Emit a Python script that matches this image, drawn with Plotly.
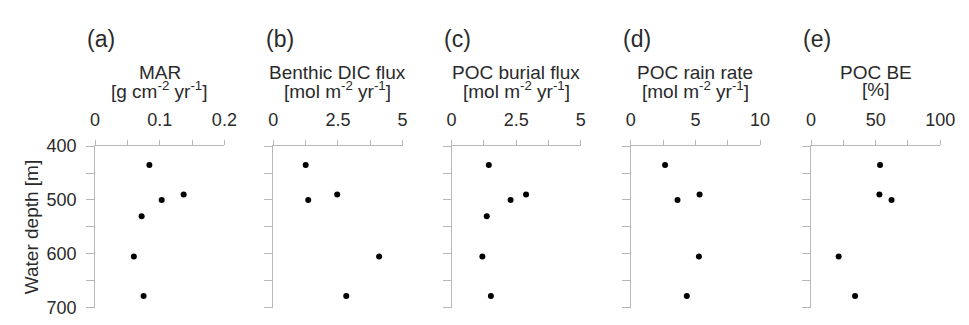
import plotly.graph_objects as go

# ---- data ----
depth = [435, 490, 500, 530, 605, 678]
mar = [0.084, 0.137, 0.103, 0.072, 0.060, 0.075]
dic_flux = [1.25, 2.47, 1.35, None, 4.09, 2.82]
poc_burial = [1.44, 2.88, 2.28, 1.36, 1.19, 1.52]
poc_rain = [2.65, 5.32, 3.61, None, 5.27, 4.33]
poc_be = [53.4, 52.9, 62.3, None, 21.4, 34.1]

panel_letters = ["(a)", "(b)", "(c)", "(d)", "(e)"]
panel_names = ["MAR", "Benthic DIC flux", "POC burial flux", "POC rain rate", "POC BE"]
panel_units = ["[g cm<sup>-2</sup> yr<sup>-1</sup>]",
               "[mol m<sup>-2</sup> yr<sup>-1</sup>]",
               "[mol m<sup>-2</sup> yr<sup>-1</sup>]",
               "[mol m<sup>-2</sup> yr<sup>-1</sup>]",
               "[%]"]
x_max = [0.2, 5, 5, 10, 100]
x_dtick = [0.1, 2.5, 2.5, 5, 50]
series = [mar, dic_flux, poc_burial, poc_rain, poc_be]
y_label = "Water depth [m]"

# ---- layout geometry ----
W, H = 969, 325
left_px = [92, 274, 456, 639, 823]
width_px = 132
top_px, bot_px = 145, 317.3

FONT = "Arial, Liberation Sans, sans-serif"
TXT = "#2a2a2a"
AX = "#b8b8b8"

fig = go.Figure()
layout = dict(
    width=W, height=H,
    margin=dict(l=0, r=0, t=0, b=0),
    paper_bgcolor="white", plot_bgcolor="white",
    showlegend=False,
    font=dict(family=FONT, color=TXT, size=18),
)
annotations = []
ydom = [1 - bot_px / H, 1 - top_px / H]

for i in range(5):
    n = "" if i == 0 else str(i + 1)
    fig.add_trace(go.Scatter(
        x=series[i], y=depth, mode="markers",
        marker=dict(color="black", size=6),
        xaxis="x" + n, yaxis="y" + n, cliponaxis=False,
    ))
    xd = [left_px[i] / W, (left_px[i] + width_px) / W]
    layout["xaxis" + n] = dict(
        domain=xd, range=[0, x_max[i]], side="top", anchor="y" + n,
        dtick=x_dtick[i], tick0=0, ticks="outside", ticklen=5, tickwidth=1,
        tickcolor=AX, showline=True, linecolor=AX, linewidth=1,
        showgrid=False, zeroline=False,
        minor=dict(dtick=x_dtick[i] / 2, tick0=0, ticks="outside", ticklen=5,
                   tickcolor=AX, showgrid=False),
        tickfont=dict(family=FONT, size=18, color=TXT),
        ticklabelstandoff=7,
        ticklabeloverflow="allow",
        fixedrange=True,
    )
    layout["yaxis" + n] = dict(
        domain=ydom, range=[700, 400], anchor="x" + n,
        dtick=100, tick0=400, ticks="outside", ticklen=8, tickwidth=1,
        tickcolor=AX, showline=True, linecolor=AX, linewidth=1,
        showgrid=False, zeroline=False,
        minor=dict(dtick=50, tick0=400, ticks="outside", ticklen=8,
                   tickcolor=AX, showgrid=False),
        showticklabels=(i == 0),
        tickfont=dict(family=FONT, size=18, color=TXT),
        ticklabelstandoff=6,
        ticklabeloverflow="allow",
        fixedrange=True,
    )
    cx = (left_px[i] + width_px / 2) / W
    annotations.append(dict(
        text=panel_letters[i], x=(left_px[i] - 10) / W, y=1 - 31 / H,
        xref="paper", yref="paper", xanchor="left", yanchor="middle",
        showarrow=False, font=dict(family=FONT, size=23, color=TXT)))
    annotations.append(dict(
        text=panel_names[i], x=cx, y=1 - 67 / H,
        xref="paper", yref="paper", xanchor="center", yanchor="middle",
        showarrow=False, font=dict(family=FONT, size=19, color=TXT)))
    annotations.append(dict(
        text=panel_units[i], x=cx, y=1 - 85 / H,
        xref="paper", yref="paper", xanchor="center", yanchor="middle",
        showarrow=False, font=dict(family=FONT, size=19, color=TXT)))

annotations.append(dict(
    text=y_label, x=27 / W, y=1 - 231 / H, textangle=-90,
    xref="paper", yref="paper", xanchor="center", yanchor="middle",
    showarrow=False, font=dict(family=FONT, size=19, color=TXT)))

layout["annotations"] = annotations
fig.update_layout(**layout)
fig.write_html("out.html",
               config={"displayModeBar": False},
               post_script="document.body.style.margin='0';document.body.style.padding='0';")
